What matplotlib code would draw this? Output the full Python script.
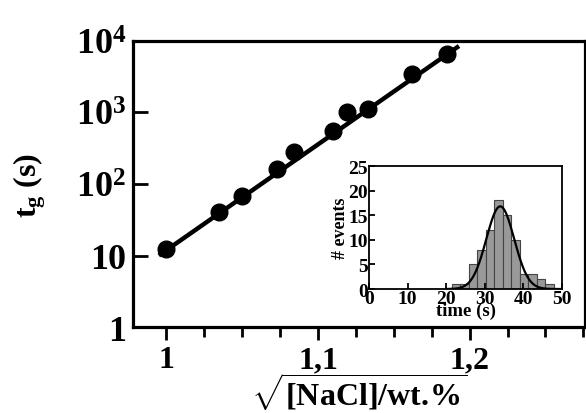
import numpy as np
import matplotlib
matplotlib.use("Agg")
import matplotlib.pyplot as plt
from matplotlib.ticker import FixedLocator, FixedFormatter, LogLocator, NullFormatter

plt.rcParams['font.family'] = ['Liberation Serif', 'DejaVu Serif']
plt.rcParams['font.weight'] = 'bold'
plt.rcParams['mathtext.fontset'] = 'custom'
plt.rcParams['mathtext.rm'] = 'Liberation Serif:bold'
plt.rcParams['mathtext.bf'] = 'Liberation Serif:bold'
plt.rcParams['mathtext.it'] = 'Liberation Serif:bold'
plt.rcParams['mathtext.default'] = 'bf'

# ---- main data ----
sqrt_nacl = [1.000, 1.035, 1.050, 1.073, 1.0845, 1.1096, 1.119, 1.133, 1.162, 1.185]
t_g = [12.3, 40.6, 68, 162, 280, 551, 1016, 1119, 3450, 6580]
fit_x = [0.995, 1.193]
fit_t = [10.0, 8500.0]

y_ticks = [1, 10, 100, 1000, 10000]
y_labels = ['1', '10', r'$10^2$', r'$10^3$', r'$10^4$']
x_ticks = [1.0, 1.1, 1.2]
x_labels = ['1', '1,1', '1,2']

# ---- inset data ----
bin_left = [21.5, 23.7, 25.9, 28.1, 30.3, 32.5, 34.7, 36.9, 39.1, 41.3, 43.5, 45.7]
counts = [1, 1, 5, 8, 12, 18, 15, 10, 3, 3, 2, 1]
bin_width = 2.2
gauss_amp, gauss_mu, gauss_sigma = 16.8, 34.0, 3.6
inset_xticks = [0, 10, 20, 30, 40, 50]
inset_yticks = [0, 5, 10, 15, 20, 25]

fig = plt.figure(figsize=(5.86, 4.14), dpi=100)
ax = fig.add_axes([0.227, 0.2077, 0.771, 0.6909])

ax.plot(fit_x, fit_t, color='black', lw=3.2, solid_capstyle='butt', zorder=2)
ax.plot(sqrt_nacl, t_g, 'o', color='black', ms=12, zorder=3)

ax.set_yscale('log')
ax.set_ylim(1, 1e4)
ax.set_xlim(0.978, 1.276)
ax.yaxis.set_major_locator(FixedLocator(y_ticks))
ax.yaxis.set_major_formatter(FixedFormatter(y_labels))
ax.yaxis.set_minor_locator(LogLocator(base=10, subs=np.arange(2, 10)))
ax.yaxis.set_minor_formatter(NullFormatter())
ax.xaxis.set_major_locator(FixedLocator(x_ticks))
ax.xaxis.set_major_formatter(FixedFormatter(x_labels))
ax.xaxis.set_minor_locator(FixedLocator(np.arange(0.975, 1.2751, 0.025)))

for s in ax.spines.values():
    s.set_linewidth(2.3)

ax.tick_params(axis='y', which='major', direction='in', length=11, width=2, labelsize=26, pad=5)
ax.tick_params(axis='y', which='minor', direction='in', length=5.5, width=1.8)
ax.tick_params(axis='x', which='major', direction='out', length=9, width=2, labelsize=23, pad=4)
ax.tick_params(axis='x', which='minor', direction='out', length=7, width=2)

ax.set_xlabel(r'$\sqrt{\mathbf{[NaCl]/wt.\!\%}}$', fontsize=23, labelpad=-3)
ax.set_ylabel(r'$\mathbf{t_g}$ (s)', fontsize=23, fontweight='bold', labelpad=20)

# ---- inset ----
ia = fig.add_axes([0.6297, 0.2995, 0.3294, 0.2971])
ia.bar(bin_left, counts, width=bin_width, align='edge', color='#999999',
       edgecolor='#444444', linewidth=0.8)
xs = np.linspace(20, 50, 300)
ia.plot(xs, gauss_amp * np.exp(-0.5 * ((xs - gauss_mu) / gauss_sigma) ** 2),
        color='black', lw=1.6)
ia.set_xlim(0, 50)
ia.set_ylim(0, 25)
ia.set_xticks(inset_xticks)
ia.set_yticks(inset_yticks)
ia.tick_params(direction='in', length=4, width=1.3, labelsize=14, pad=1)
for s in ia.spines.values():
    s.set_linewidth(1.3)
ia.set_xlabel('time (s)', fontsize=13.5, fontweight='bold', labelpad=-4)
ia.set_ylabel('# events', fontsize=13, fontweight='bold', labelpad=-1)

fig.savefig('out.png', dpi=100)
